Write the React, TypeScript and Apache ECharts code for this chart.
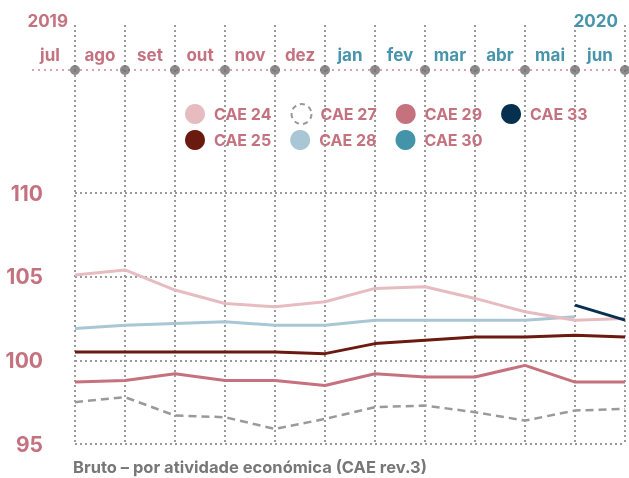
import React, { useEffect, useRef } from 'react';
import * as echarts from 'echarts';

const months = ['jul', 'ago', 'set', 'out', 'nov', 'dez', 'jan', 'fev', 'mar', 'abr', 'mai', 'jun'];
const yearLabels = ['2019', '2020'];
const yTicks = [95, 100, 105, 110];

const cae24 = [105.1, 105.4, 104.2, 103.4, 103.2, 103.5, 104.3, 104.4, 103.7, 102.9, 102.4, 102.5];
const cae25 = [100.5, 100.5, 100.5, 100.5, 100.5, 100.4, 101.0, 101.2, 101.4, 101.4, 101.5, 101.4];
const cae27 = [97.5, 97.8, 96.7, 96.6, 95.9, 96.5, 97.2, 97.3, 96.9, 96.4, 97.0, 97.1];
const cae28 = [101.9, 102.1, 102.2, 102.3, 102.1, 102.1, 102.4, 102.4, 102.4, 102.4, 102.6, null];
const cae29 = [98.7, 98.8, 99.2, 98.8, 98.8, 98.5, 99.2, 99.0, 99.0, 99.7, 98.7, 98.7];
const cae30: (number | null)[] = [null, null, null, null, null, null, null, null, null, null, null, null];
const cae33 = [null, null, null, null, null, null, null, null, null, null, 103.3, 102.4];

const titleText = 'Bruto – por atividade económica (CAE rev.3)';

const PINK = '#c4727f';
const TEAL = '#4894ab';
const FONT = 'Inter, "Noto Sans", sans-serif';

export default function App() {
  const ref = useRef<HTMLDivElement>(null);
  useEffect(() => {
    const chart = echarts.init(ref.current!, null, { renderer: 'svg' });
    const dotted = { color: '#9a9a9a', type: [2, 3] as any, width: 2 };
    const line = (name: string, data: any[], color: string, extra: any = {}) => ({
      type: 'line',
      name,
      data,
      xAxisIndex: 0,
      yAxisIndex: 0,
      symbol: 'none',
      showSymbol: false,
      connectNulls: false,
      itemStyle: { color },
      lineStyle: { color, width: 3, ...extra },
      z: 3,
    });
    const legendText = { color: PINK, fontSize: 16, fontWeight: 'bold', fontFamily: FONT, padding: [0, 0, 0, 4] };
    chart.setOption({
      animation: false,
      textStyle: { fontFamily: FONT },
      title: {
        text: titleText,
        left: 68,
        top: 453,
        textStyle: { fontSize: 16.5, fontWeight: 'bold', color: '#777', fontFamily: FONT },
      },
      grid: [
        { left: 75, right: 4, top: 193, bottom: 34 },
        { left: 75, right: 4, top: 25, bottom: 34 },
        { left: 75, right: 4, top: 69, height: 1 },
      ],
      xAxis: [
        {
          type: 'category', gridIndex: 0, data: months, boundaryGap: false,
          axisLine: { show: false }, axisTick: { show: false }, axisLabel: { show: false }, splitLine: { show: false },
        },
        {
          type: 'category', gridIndex: 1, data: months, boundaryGap: false,
          axisLine: { show: false }, axisTick: { show: false }, axisLabel: { show: false },
          splitLine: { show: true, lineStyle: dotted },
        },
        {
          type: 'category', gridIndex: 2, data: months, boundaryGap: false, position: 'top',
          axisLine: { show: false }, axisTick: { show: false }, splitLine: { show: false },
          axisLabel: {
            show: true, interval: 0, align: 'right', margin: 4,
            formatter: (v: string, i: number) => (i < 6 ? `{p|${v}}` : `{t|${v}}`),
            rich: {
              p: { color: PINK, width: 50, align: 'center', fontSize: 17, fontWeight: 'bold', fontFamily: FONT, lineHeight: 20 },
              t: { color: TEAL, width: 50, align: 'center', fontSize: 17, fontWeight: 'bold', fontFamily: FONT, lineHeight: 20 },
            },
          },
        },
      ],
      yAxis: [
        {
          type: 'value', gridIndex: 0, min: yTicks[0], max: yTicks[yTicks.length - 1], interval: 5,
          axisLine: { show: false }, axisTick: { show: false },
          axisLabel: { margin: 32, color: PINK, fontSize: 21, fontWeight: 'bold', fontFamily: FONT },
          splitLine: { show: true, lineStyle: dotted },
        },
        { type: 'value', gridIndex: 1, min: 0, max: 1, show: false, splitLine: { show: false } },
        { type: 'value', gridIndex: 2, min: 0, max: 1, show: false, splitLine: { show: false } },
      ],
      legend: [
        {
          left: 180, top: 98, itemWidth: 20, itemHeight: 20, itemGap: 19, icon: 'circle',
          textStyle: legendText,
          data: [
            { name: 'CAE 24' },
            { name: 'CAE 27', itemStyle: { color: '#ffffff', borderColor: '#9a9a9a', borderWidth: 2, borderType: [5, 4] } },
            { name: 'CAE 29' },
            { name: 'CAE 33' },
          ],
        },
        {
          left: 180, top: 125, itemWidth: 20, itemHeight: 20, itemGap: 19, icon: 'circle',
          textStyle: legendText,
          data: [{ name: 'CAE 25' }, { name: 'CAE 28' }, { name: 'CAE 30' }],
        },
      ],
      graphic: [
        {
          type: 'line', z: 1,
          shape: { x1: 32, y1: 70, x2: 629, y2: 70 },
          style: { stroke: '#dda2aa', lineWidth: 2, lineDash: [2, 4] },
        },
        {
          type: 'text', z: 5,
          style: { x: 68, y: 21, text: yearLabels[0], align: 'right', verticalAlign: 'middle', fill: PINK, font: `bold 17px ${FONT}` },
        },
        {
          type: 'text', z: 5,
          style: { x: 618, y: 21, text: yearLabels[1], align: 'right', verticalAlign: 'middle', fill: TEAL, font: `bold 17px ${FONT}` },
        },
      ],
      series: [
        line('CAE 27', cae27, '#9a9a9a', { type: [8, 5], width: 2.5 }),
        line('CAE 29', cae29, '#c5717e'),
        line('CAE 25', cae25, '#6b1a0f'),
        line('CAE 28', cae28, '#a9c6d4'),
        line('CAE 24', cae24, '#e6bcc1'),
        line('CAE 30', cae30, '#4393a9'),
        line('CAE 33', cae33, '#06304f'),
        {
          type: 'scatter', xAxisIndex: 2, yAxisIndex: 2, symbol: 'circle', symbolSize: 10,
          itemStyle: { color: '#6e6e6e' }, z: 6, silent: true,
          data: months.map((m) => [m, 0]),
        },
      ],
    });
    return () => chart.dispose();
  }, []);
  return <div ref={ref} style={{ position: 'fixed', left: 0, top: 0, width: 629, height: 478 }} />;
}
